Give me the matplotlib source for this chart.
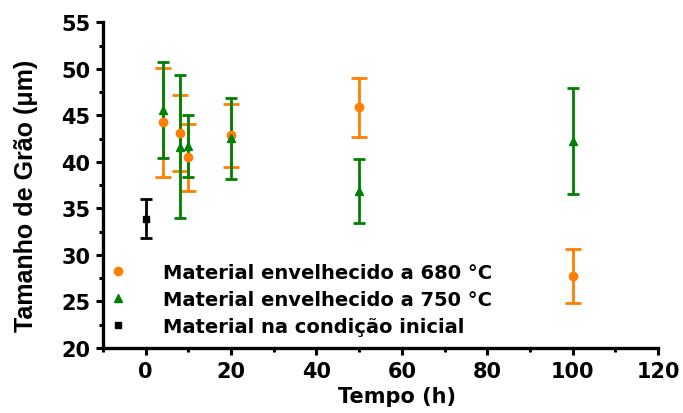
import matplotlib
matplotlib.use("Agg")
import matplotlib.pyplot as plt
from matplotlib.ticker import MultipleLocator

# Data
t_680 = [4, 8, 10, 20, 50, 100]
g_680 = [44.25, 43.1, 40.5, 42.85, 45.85, 27.75]
e_680 = [5.85, 4.1, 3.6, 3.35, 3.15, 2.9]

t_750 = [4, 8, 10, 20, 50, 100]
g_750 = [45.55, 41.65, 41.7, 42.55, 36.85, 42.2]
e_750 = [5.15, 7.65, 3.3, 4.35, 3.45, 5.7]

t_ini = [0]
g_ini = [33.9]
e_ini = [2.1]

labels = ["Material envelhecido a 680 °C",
          "Material envelhecido a 750 °C",
          "Material na condição inicial"]

orange = "#FF8000"
green = "#008000"

fig = plt.figure(figsize=(6.83, 4.14), dpi=100)
ax = fig.add_axes([0.1508, 0.157, 0.8126, 0.7867])

h1 = ax.errorbar(t_680, g_680, yerr=e_680, fmt="o", color=orange, ms=6,
                 elinewidth=2, capsize=6, capthick=2)
h2 = ax.errorbar(t_750, g_750, yerr=e_750, fmt="^", color=green, ms=6,
                 elinewidth=2, capsize=4, capthick=2)
h3 = ax.errorbar(t_ini, g_ini, yerr=e_ini, fmt="s", color="black", ms=5,
                 elinewidth=2, capsize=4, capthick=2)

ax.set_xlim(-10, 120)
ax.set_ylim(20, 55)
ax.xaxis.set_major_locator(MultipleLocator(20))
ax.xaxis.set_minor_locator(MultipleLocator(10))
ax.yaxis.set_major_locator(MultipleLocator(5))
ax.yaxis.set_minor_locator(MultipleLocator(2.5))

for s in ["top", "right"]:
    ax.spines[s].set_visible(False)
for s in ["left", "bottom"]:
    ax.spines[s].set_linewidth(2.4)

ax.tick_params(which="major", direction="out", length=5, width=2.2, pad=4)
ax.tick_params(which="minor", direction="out", length=3, width=2.2)
for lab in ax.get_xticklabels() + ax.get_yticklabels():
    lab.set_fontfamily(["DejaVu Sans"])
    lab.set_fontweight("bold")
    lab.set_fontsize(15)

ax.set_xlabel("Tempo (h)", fontsize=15, family=["DejaVu Sans"],
              fontweight="bold", va="center")
ax.xaxis.set_label_coords(0.53, -0.147)
ax.set_ylabel("Tamanho de Grão (μm)", fontsize=18, fontweight="bold",
              family=["Liberation Sans", "DejaVu Sans"], va="center")
ax.yaxis.set_label_coords(-0.1387, 0.47)

leg = ax.legend([h1[0], h2[0], h3[0]], labels, loc="lower left",
                bbox_to_anchor=(0.0095, 0.038), frameon=False,
                prop=dict(family="DejaVu Sans", weight="bold", size=14),
                handlelength=1.0, handletextpad=1.82, labelspacing=0.4,
                borderaxespad=0, borderpad=0)

fig.savefig("out.png", dpi=100)
